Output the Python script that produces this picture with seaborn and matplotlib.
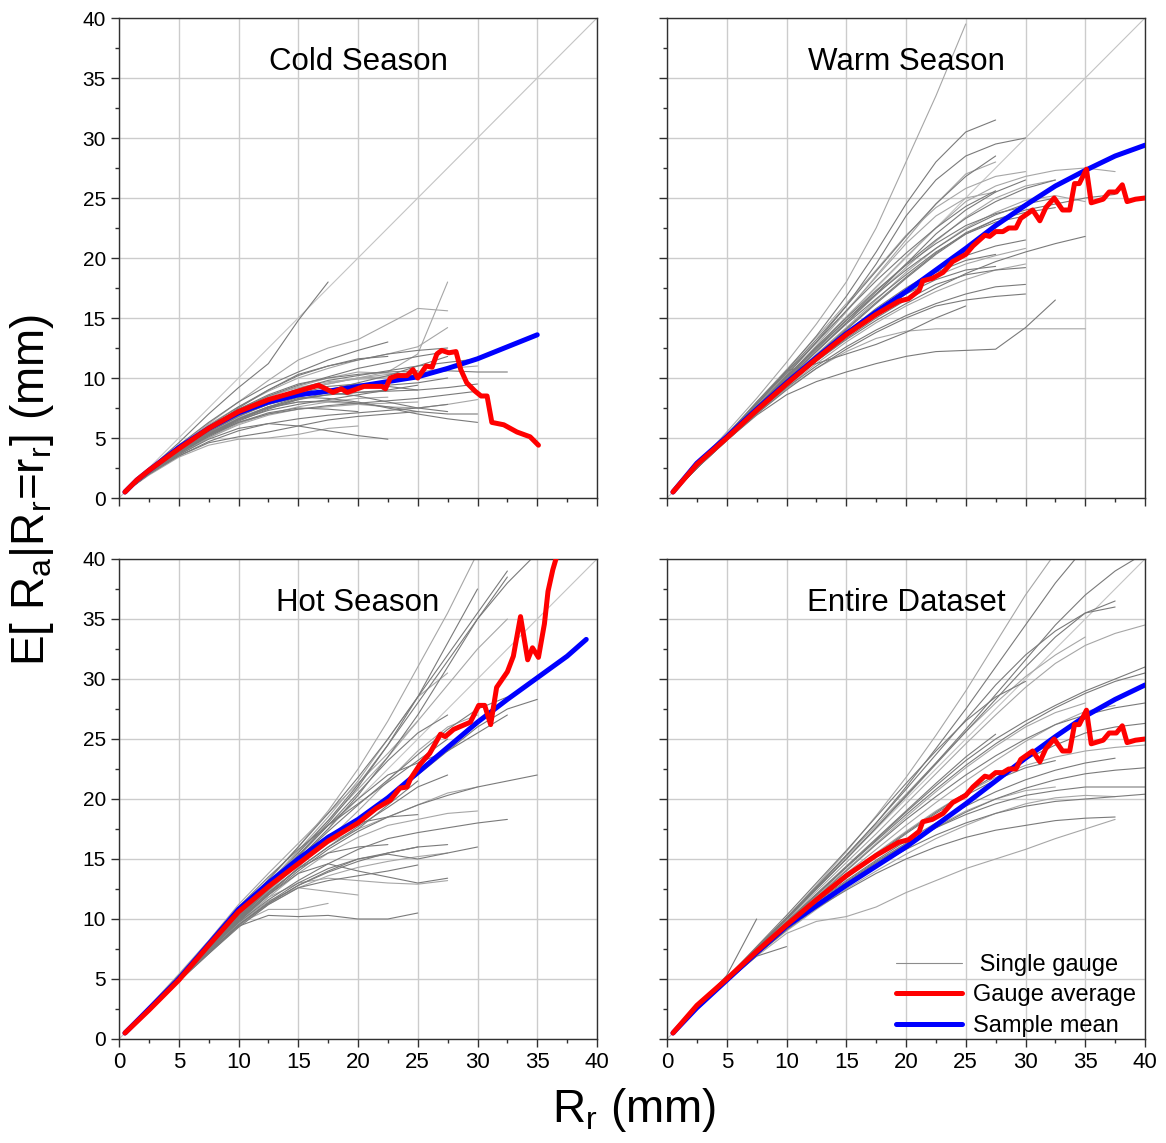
import pandas as pd
import matplotlib
matplotlib.use("Agg")
import matplotlib.pyplot as plt
import seaborn as sns
from matplotlib.lines import Line2D
from matplotlib.ticker import MultipleLocator

# === DATA ===
# shared x positions of the single-gauge curves (each gauge uses the first len(y) of them)
GAUGE_X = [0.5, 2.5, 5, 7.5, 10, 12.5, 15, 17.5, 20, 22.5, 25, 27.5, 30, 32.5, 35, 37.5, 40]

COLD_GAUGES = [
    [0.5, 2.3, 4.3, 6.2, 8.0, 9.8, 11.5, 12.5, 13.2, 14.5, 15.8, 15.6],
    [0.5, 2.2, 4.0, 5.8, 7.5, 9.0, 10.3, 11.0, 11.5, 12.0, 12.3, 12.5],
    [0.5, 2.4, 4.6, 7.0, 9.2, 11.2, 14.8, 18.0],
    [0.5, 2.2, 4.1, 5.8, 7.2, 8.3, 9.0, 9.5, 10.0, 10.5, 12.0, 18.0],
    [0.5, 2.0, 3.7, 5.2, 6.4, 7.4, 8.2, 8.8, 9.3, 9.8, 10.3, 10.6, 10.5, 10.5],
    [0.5, 2.1, 3.9, 5.5, 6.8, 7.8, 8.4, 8.3, 8.0, 7.5, 7.0, 6.6, 6.3],
    [0.5, 1.9, 3.4, 4.4, 4.9, 5.0, 5.3, 5.8, 6.0],
    [0.5, 2.0, 3.5, 4.6, 5.1, 5.5, 6.0, 6.5, 6.8, 7.0, 7.2],
    [0.5, 2.2, 4.0, 5.6, 6.9, 7.8, 8.5, 9.0, 9.2, 9.4, 9.6, 10.0],
    [0.5, 2.3, 4.3, 6.1, 7.6, 8.9, 10.0, 10.8, 11.5, 12.0, 12.6, 14.2],
    [0.5, 2.1, 3.8, 5.3, 6.6, 7.6, 8.2, 8.6, 8.8, 9.0],
    [0.5, 2.2, 4.1, 5.9, 7.4, 8.6, 9.5, 10.0, 10.3, 10.5, 10.6],
    [0.5, 2.0, 3.6, 5.0, 6.1, 6.9, 7.4, 7.6, 7.8, 7.9, 8.0],
    [0.5, 2.0, 3.6, 4.9, 5.8, 6.2, 6.0, 5.6, 5.2, 4.9],
    [0.5, 2.2, 4.2, 6.0, 7.6, 9.0, 10.2, 11.0, 11.6, 11.8],
    [0.5, 2.1, 3.9, 5.5, 6.9, 8.0, 8.9, 9.5, 10.0, 10.3, 10.5, 10.8, 11.0],
    [0.5, 2.0, 3.7, 5.2, 6.5, 7.5, 8.3, 8.6, 8.8, 8.9, 9.0, 9.2, 9.5],
    [0.5, 2.2, 4.0, 5.7, 7.0, 8.0, 8.6, 8.8, 8.5, 8.0, 7.5, 7.2],
    [0.5, 2.1, 3.8, 5.4, 6.7, 7.6, 8.0, 8.0, 7.8, 7.6, 7.5, 7.8, 8.2],
    [0.5, 2.3, 4.4, 6.3, 8.0, 9.4, 10.5, 11.5, 12.3, 13.0],
    [0.5, 2.1, 3.8, 5.3, 6.5, 7.3, 7.8, 8.2, 8.6, 9.0, 9.4],
    [0.5, 2.0, 3.6, 5.0, 6.2, 7.0, 7.6, 8.0, 8.3, 8.4],
    [0.5, 2.2, 4.0, 5.6, 7.0, 8.2, 9.1, 9.8, 10.2, 10.6, 11.0, 11.3, 11.6],
    [0.5, 2.1, 3.9, 5.4, 6.6, 7.5, 8.0, 8.1, 7.9, 7.6, 7.2, 7.0, 7.0],
    [0.5, 2.2, 4.1, 5.7, 7.1, 8.2, 9.0, 9.6, 10.0, 10.1],
    [0.5, 2.0, 3.7, 5.1, 6.3, 7.1, 7.5, 7.4, 7.2],
    [0.5, 2.1, 3.8, 5.3, 6.6, 7.6, 8.4, 9.0, 9.6, 10.2, 11.0, 11.8],
    [0.5, 2.2, 4.0, 5.7, 7.2, 8.4, 9.3, 10.0, 10.5, 10.4, 10.2],
    [0.5, 2.0, 3.5, 4.7, 5.6, 6.2, 6.6, 6.9, 7.1, 7.3, 7.5, 7.8],
    [0.5, 2.1, 3.8, 5.2, 6.3, 7.0, 7.4, 7.7, 7.9, 8.1, 8.3, 8.6, 8.9],
    [0.5, 2.3, 4.2, 6.0, 7.4, 8.5, 9.2, 9.7, 9.9, 10.0, 10.3],
    [0.5, 2.2, 4.1, 5.8, 7.3, 8.5, 9.4, 10.1, 10.8, 11.3, 11.8, 12.2],
    [0.5, 2.1, 3.9, 5.5, 6.8, 7.9, 8.7, 9.3, 9.5, 9.3, 9.0],
]

WARM_GAUGES = [
    [0.5, 2.8, 5.5, 8.3, 11.3, 14.5, 18.0, 22.5, 28.0, 33.5, 39.5],
    [0.5, 2.7, 5.2, 7.8, 10.6, 13.5, 16.8, 20.5, 24.5, 28.0, 30.5, 31.5],
    [0.5, 2.6, 5.1, 7.6, 10.2, 13.0, 16.0, 19.5, 23.5, 26.5, 28.5, 29.5, 30.0],
    [0.5, 2.6, 5.1, 7.5, 10.0, 12.7, 15.5, 18.5, 21.5, 24.5, 27.0, 28.0],
    [0.5, 2.6, 5.0, 7.4, 9.8, 12.2, 14.6, 17.0, 19.5, 22.0, 24.0, 25.5, 26.5],
    [0.5, 2.6, 5.0, 7.3, 9.6, 11.8, 14.0, 16.2, 18.3, 20.3, 22.0, 23.0, 23.5],
    [0.5, 2.5, 4.9, 7.2, 9.4, 11.5, 13.5, 15.3, 17.0, 18.5, 19.5, 20.2, 20.8],
    [0.5, 2.5, 4.8, 7.0, 9.0, 10.8, 12.4, 13.8, 15.0, 16.0, 16.5, 16.8, 17.0],
    [0.5, 2.5, 4.8, 6.9, 8.6, 9.7, 10.5, 11.2, 11.8, 12.2, 12.3, 12.4, 14.2, 16.5],
    [0.5, 2.5, 4.8, 7.0, 9.1, 10.8, 12.2, 13.3, 13.9, 14.1, 14.1, 14.1, 14.1, 14.1, 14.1],
    [0.5, 2.5, 4.9, 7.1, 9.2, 11.0, 12.6, 14.0, 15.2, 16.2, 17.0, 17.6, 17.8],
    [0.5, 2.6, 5.1, 7.6, 10.0, 12.4, 14.8, 17.2, 19.5, 21.5, 23.3, 24.7, 25.8, 26.5],
    [0.5, 2.5, 5.0, 7.4, 9.8, 12.0, 14.2, 16.5, 18.8, 20.8, 22.5, 23.8, 24.8, 25.2, 24.7],
    [0.5, 2.5, 4.9, 7.2, 9.5, 11.6, 13.6, 15.5, 17.3, 18.8, 19.8, 20.3],
    [0.5, 2.6, 5.2, 8.0, 10.6, 11.2, 12.0, 12.8, 13.8, 15.0, 16.0],
    [0.5, 2.6, 5.0, 7.5, 9.9, 12.3, 14.6, 16.9, 19.2, 21.4, 23.4, 25.0, 26.0, 26.5],
    [0.5, 2.5, 4.9, 7.3, 9.6, 11.9, 14.1, 16.3, 18.4, 20.4, 22.1, 23.2, 23.8, 24.2],
    [0.5, 2.7, 5.3, 7.9, 10.5, 13.2, 16.0, 18.9, 21.8, 24.5, 26.8, 28.5],
    [0.5, 2.5, 4.8, 7.0, 9.2, 11.2, 13.0, 14.6, 16.0, 17.2, 18.2, 19.0, 19.5],
    [0.5, 2.6, 5.1, 7.6, 10.1, 12.5, 14.8, 17.0, 19.0, 20.8, 22.4, 23.6, 24.5, 25.0],
    [0.5, 2.5, 4.9, 7.2, 9.4, 11.4, 13.2, 14.8, 16.2, 17.5, 18.7, 19.7, 20.5, 21.2, 21.8],
    [0.5, 2.6, 5.1, 7.7, 10.3, 12.9, 15.6, 18.4, 21.2, 23.5, 25.0, 25.5],
    [0.5, 2.5, 4.9, 7.3, 9.6, 11.8, 13.8, 15.5, 17.0, 18.2, 19.0, 19.3],
    [0.5, 2.5, 5.0, 7.5, 9.9, 12.2, 14.5, 16.6, 18.6, 20.5, 22.0, 23.2, 24.0, 24.5, 25.0, 25.3],
    [0.5, 2.6, 5.1, 7.6, 10.1, 12.6, 15.1, 17.6, 20.1, 22.5, 24.7, 26.0, 26.8, 27.3, 27.5, 27.2],
    [0.5, 2.5, 4.9, 7.2, 9.5, 11.7, 13.8, 15.8, 17.5, 19.0, 20.2, 21.0, 21.5],
    [0.5, 2.5, 4.8, 7.1, 9.3, 11.4, 13.3, 15.0, 16.5, 17.8, 18.6, 19.0, 19.2],
    [0.5, 2.7, 5.3, 8.0, 10.7, 13.4, 16.2, 19.0, 21.9, 24.2, 25.8, 26.8, 27.2],
    [0.5, 2.6, 5.2, 7.8, 10.4, 13.0, 15.6, 18.1, 20.4, 22.5, 24.3, 25.6],
    [0.5, 2.6, 5.1, 7.6, 10.1, 12.6, 15.0, 17.3, 19.4, 21.2, 22.7, 23.7, 24.3],
]

HOT_GAUGES = [
    [0.5, 2.6, 5.2, 7.8, 10.5, 13.2, 16.0, 19.0, 22.5, 26.5, 31.0, 35.5, 40.5],
    [0.5, 2.6, 5.1, 7.7, 10.3, 12.8, 15.3, 18.0, 21.0, 24.5, 28.5, 33.0, 37.5],
    [0.5, 2.5, 5.0, 7.5, 10.0, 12.5, 15.0, 17.5, 20.3, 23.5, 27.0, 31.0, 35.0, 38.5],
    [0.5, 2.5, 4.9, 7.3, 9.7, 12.0, 14.3, 16.6, 19.0, 21.5, 24.0, 26.0, 27.0],
    [0.5, 2.5, 4.9, 7.2, 9.5, 11.3, 12.8, 14.0, 15.0, 15.5, 16.0],
    [0.5, 2.5, 4.8, 7.1, 9.4, 10.3, 10.2, 10.3, 10.0, 10.0, 10.5],
    [0.5, 2.5, 4.9, 7.3, 9.6, 11.5, 12.6, 12.3, 12.0],
    [0.5, 2.5, 5.0, 7.4, 9.8, 12.0, 13.8, 14.6, 14.0, 13.5, 13.0, 13.4],
    [0.5, 2.6, 5.1, 7.6, 10.1, 12.6, 15.0, 17.0, 18.0, 18.5, 18.7],
    [0.5, 2.5, 4.9, 7.4, 9.9, 12.3, 14.5, 16.3, 17.5, 18.5, 19.5, 20.5, 21.0],
    [0.5, 2.5, 5.0, 7.5, 10.0, 12.4, 14.6, 16.5, 18.3, 20.0, 22.0, 24.0, 26.0, 27.5, 28.3],
    [0.5, 2.6, 5.1, 7.7, 10.3, 12.9, 15.5, 18.2, 21.2, 24.5, 28.0, 31.5, 35.0, 38.0, 40.5],
    [0.5, 2.5, 4.9, 7.3, 9.6, 11.8, 13.8, 15.5, 16.8, 17.8, 18.3, 18.8, 19.0],
    [0.5, 2.5, 4.8, 7.1, 9.3, 11.2, 12.6, 13.2, 13.6, 14.0, 14.5],
    [0.5, 2.5, 5.0, 7.5, 9.9, 12.2, 14.2, 16.0, 17.5, 19.5, 21.5],
    [0.5, 2.6, 5.2, 7.8, 10.4, 13.0, 15.7, 18.5, 21.5, 25.0, 28.5, 30.5],
    [0.5, 2.5, 4.9, 7.2, 9.5, 11.4, 13.0, 14.2, 15.0, 15.4, 15.0, 15.5, 16.0],
    [0.5, 2.5, 5.0, 7.4, 9.8, 12.1, 14.2, 16.0, 17.7, 19.3, 21.0, 22.0],
    [0.5, 2.5, 4.9, 7.3, 9.7, 11.8, 13.0, 13.4, 13.2, 13.0, 12.9, 13.2],
    [0.5, 2.6, 5.1, 7.6, 10.2, 12.8, 15.3, 17.8, 20.0, 22.0, 23.0, 24.0, 25.5, 27.0],
    [0.5, 2.5, 5.0, 7.5, 9.9, 12.2, 14.2, 15.5, 16.0, 16.2],
    [0.5, 2.5, 4.9, 7.3, 9.6, 10.8, 10.8, 11.3],
    [0.5, 2.6, 5.2, 7.9, 10.6, 13.3, 16.0, 18.8, 21.8, 25.0, 28.5, 32.0, 35.5, 39.0],
    [0.5, 2.5, 5.0, 7.4, 9.7, 11.6, 13.2, 14.6, 15.8, 16.7, 17.2, 17.6, 18.0, 18.3],
    [0.5, 2.5, 4.9, 7.2, 9.4, 11.2, 12.6, 13.6, 14.3, 14.8, 15.2, 15.5],
    [0.5, 2.6, 5.1, 7.6, 10.1, 12.6, 15.0, 17.3, 19.5, 21.6, 23.7, 25.8, 27.5, 28.5],
    [0.5, 2.5, 5.0, 7.5, 10.0, 12.5, 15.2, 17.8, 20.5, 23.2, 25.5, 27.0],
    [0.5, 2.6, 5.2, 7.8, 10.4, 13.0, 15.6, 18.2, 20.8, 23.5, 26.5, 29.5, 32.5, 35.0],
    [0.5, 2.5, 4.9, 7.3, 9.5, 11.3, 12.8, 13.9, 14.8, 15.5, 16.0, 16.2],
    [0.5, 2.5, 5.0, 7.4, 9.8, 12.0, 14.0, 15.8, 17.3, 18.5, 19.5, 20.3, 21.0, 21.5, 22.0],
    [0.5, 2.7, 5.4, 8.2, 11.2, 13.8, 16.3, 18.8, 21.3, 23.8, 26.5],
    [0.5, 2.6, 5.3, 8.0, 11.0, 13.5, 15.8, 17.8, 19.6, 21.4, 23.2, 25.0],
]

ENTIRE_GAUGES = [
    [0.5, 2.6, 5.1, 7.6, 10.1, 12.8, 15.6, 18.6, 21.8, 25.3, 29.0, 33.0, 37.0, 40.5],
    [0.5, 2.6, 5.1, 7.6, 10.1, 12.7, 15.3, 18.0, 21.0, 24.2, 27.5, 31.0, 34.5, 38.0, 41.0],
    [0.5, 2.6, 5.0, 7.5, 10.0, 12.5, 15.0, 17.6, 20.3, 23.0, 25.8, 28.7, 31.6, 34.5, 37.0, 39.0, 40.5],
    [0.5, 2.5, 5.0, 7.5, 9.9, 12.3, 14.7, 17.1, 19.6, 22.1, 24.6, 27.0, 29.3, 31.3, 32.8, 33.8, 34.5],
    [0.5, 2.5, 4.9, 7.3, 9.7, 12.0, 14.3, 16.6, 18.9, 21.1, 23.2, 25.0, 26.5, 27.8, 29.0, 30.0, 31.0],
    [0.5, 2.5, 4.9, 7.3, 9.6, 11.8, 14.0, 16.2, 18.3, 20.2, 22.0, 23.6, 25.0, 26.2, 27.0, 27.6, 28.0],
    [0.5, 2.5, 4.9, 7.2, 9.5, 11.6, 13.6, 15.5, 17.3, 19.0, 20.5, 21.8, 22.8, 23.5, 24.0, 24.3, 24.5],
    [0.5, 2.5, 4.8, 7.1, 9.3, 11.3, 13.1, 14.8, 16.3, 17.6, 18.7, 19.6, 20.3, 20.7, 21.0, 21.0, 21.0],
    [0.5, 2.5, 4.8, 7.0, 9.1, 10.9, 12.4, 13.8, 15.0, 16.0, 16.8, 17.4, 17.8, 18.2, 18.4, 18.5],
    [0.5, 2.5, 4.8, 6.9, 8.8, 9.8, 10.2, 11.0, 12.2, 13.2, 14.2, 15.0, 15.8, 16.7, 17.5, 18.3],
    [0.5, 2.5, 4.9, 7.2, 9.4, 11.4, 13.2, 14.9, 16.5, 18.0, 19.4, 20.6, 21.6, 22.4, 23.0, 23.4],
    [0.5, 2.6, 5.0, 7.5, 10.0, 12.5, 15.0, 17.6, 20.2, 22.9, 25.6, 28.3, 31.0, 33.5, 35.5, 36.5],
    [0.5, 2.5, 4.9, 7.3, 9.6, 11.9, 14.1, 16.3, 18.5, 20.6, 22.6, 24.4, 26.0, 27.2, 28.0],
    [0.5, 2.5, 4.8, 7.1, 9.3, 11.4, 13.4, 15.3, 17.1, 18.8, 20.3, 21.6, 22.6, 23.2],
    [0.5, 2.5, 4.8, 7.0, 9.1, 11.0, 12.8, 14.4, 15.8, 17.0, 18.0, 18.8, 19.4, 19.8, 20.0, 20.2, 20.4],
    [0.5, 2.5, 4.9, 7.2, 9.5, 11.7, 13.8, 15.8, 17.8, 19.7, 21.5, 23.2, 24.8, 26.2, 27.3, 27.8],
    [0.5, 2.6, 5.3, 10.0],
    [0.5, 2.5, 4.8, 6.9, 7.7],
    [0.5, 2.6, 5.1, 7.6, 10.1, 12.6, 15.2, 17.8, 20.4, 23.0, 25.6, 28.0, 30.2, 32.0, 33.5],
    [0.5, 2.5, 4.9, 7.3, 9.7, 12.0, 14.3, 16.5, 18.7, 20.8, 22.8, 24.6, 26.2, 27.6, 28.8, 29.8, 30.5],
    [0.5, 2.5, 4.8, 7.1, 9.2, 11.2, 13.0, 14.7, 16.2, 17.6, 18.9, 20.0, 20.9, 21.6, 22.1, 22.4, 22.6],
    [0.5, 2.5, 4.8, 7.0, 9.0, 10.8, 12.5, 14.0, 15.4, 16.7, 17.8, 18.8, 19.6, 20.1, 20.3, 20.2],
    [0.5, 2.6, 5.0, 7.5, 10.0, 12.6, 15.3, 18.0, 20.8, 23.7, 26.6, 29.5, 32.0, 34.0, 35.5, 36.0],
    [0.5, 2.5, 4.9, 7.2, 9.4, 11.5, 13.5, 15.4, 17.2, 18.9, 20.5, 22.0, 23.3, 24.5, 25.5, 26.0, 26.3],
    [0.5, 2.5, 4.8, 7.0, 9.1, 11.1, 13.0, 14.7, 16.3, 17.7, 19.0, 20.0, 20.7, 21.0],
    [0.5, 2.6, 5.1, 7.7, 10.3, 13.0, 15.7, 18.5, 21.3, 24.0, 26.5, 28.5, 29.8],
    [0.5, 2.5, 5.0, 7.4, 9.8, 12.1, 14.4, 16.7, 19.0, 21.3, 23.5, 25.4],
]

# sample mean (blue)
COLD_MEAN_X = [0.5, 1.5, 2.5, 5, 7.5, 10, 12.5, 15, 17.5, 20, 22.5, 25, 27.5, 30, 32.5, 35]
COLD_MEAN_Y = [0.5, 1.5, 2.3, 4.2, 5.8, 7.1, 8.0, 8.6, 8.9, 9.3, 9.7, 10.1, 10.8, 11.6, 12.6, 13.6]
WARM_MEAN_X = [0.5, 2.5, 5, 7.5, 10, 12.5, 15, 17.5, 20, 22.5, 25, 27.5, 30, 32.5, 35, 37.5, 40]
WARM_MEAN_Y = [0.5, 2.9, 5.1, 7.4, 9.6, 11.7, 13.7, 15.5, 17.2, 19.0, 20.8, 22.7, 24.4, 26.0, 27.3, 28.5, 29.4]
HOT_MEAN_X = [0.5, 2.5, 5, 7.5, 10, 12.5, 15, 17.5, 20, 22.5, 25, 27.5, 30, 32.5, 35, 37.5, 39.1]
HOT_MEAN_Y = [0.5, 2.5, 5.0, 7.9, 10.8, 13.0, 15.0, 16.8, 18.3, 20.1, 22.2, 24.3, 26.4, 28.3, 30.1, 31.9, 33.3]
ENTIRE_MEAN_X = [0.5, 2.5, 5, 7.5, 10, 12.5, 15, 17.5, 20, 22.5, 25, 27.5, 30, 32.5, 35, 37.5, 40]
ENTIRE_MEAN_Y = [0.5, 2.6, 4.9, 7.2, 9.4, 11.1, 12.8, 14.4, 16.0, 17.8, 19.6, 21.5, 23.4, 25.2, 26.9, 28.3, 29.5]

# gauge average (red)
COLD_AVG_X = [0.5, 1.5, 2.5, 5, 7.5, 10, 12.5, 15, 16.7, 17.9, 18.6, 19.1, 20.5, 22.0, 22.3, 22.7,
              23.3, 24.1, 24.6, 25.0, 25.7, 26.2, 26.6, 27.0, 27.6, 28.2, 28.6, 29.1, 29.8, 30.3,
              30.8, 31.2, 32.2, 33.3, 34.4, 35.1]
COLD_AVG_Y = [0.5, 1.5, 2.3, 4.1, 5.8, 7.2, 8.2, 8.9, 9.4, 8.8, 9.1, 8.8, 9.3, 9.3, 9.1, 10.0,
              10.2, 10.2, 10.7, 10.0, 11.0, 10.9, 12.0, 12.3, 12.1, 12.2, 10.7, 9.6, 8.9, 8.5,
              8.5, 6.3, 6.1, 5.5, 5.1, 4.4]
WARM_AVG_X = [0.5, 2.5, 5, 7.5, 10, 12.5, 15, 17.5, 19.4, 20.2, 21.1, 21.4, 22.2, 23.1, 23.9, 25.0,
              25.6, 26.6, 27.0, 27.5, 28.1, 28.6, 29.2, 29.6, 30.6, 31.2, 31.7, 32.4, 33.1, 33.7,
              34.1, 34.5, 35.1, 35.5, 36.5, 37.0, 37.6, 38.1, 38.5, 39.2, 40]
WARM_AVG_Y = [0.5, 2.8, 5.0, 7.3, 9.5, 11.6, 13.6, 15.3, 16.4, 16.6, 17.3, 18.1, 18.3, 18.8, 19.7, 20.3,
              21.0, 21.9, 21.8, 22.2, 22.2, 22.5, 22.5, 23.3, 24.0, 23.1, 24.2, 25.0, 24.0, 24.0,
              26.2, 26.2, 27.4, 24.6, 24.9, 25.5, 25.5, 26.1, 24.7, 24.9, 25.0]
HOT_AVG_X = [0.5, 2.5, 5, 7.5, 10, 12.5, 15, 17.5, 20, 21.5, 22.7, 23.5, 24.1, 24.4, 25.2, 26.0,
             26.9, 27.3, 28.0, 29.4, 30.1, 30.6, 31.1, 31.6, 32.5, 33.0, 33.6, 34.2, 34.6, 35.1,
             35.6, 35.9, 36.3, 36.8]
HOT_AVG_Y = [0.5, 2.4, 4.9, 7.8, 10.6, 12.7, 14.6, 16.5, 18.0, 19.2, 19.9, 20.9, 21.0, 21.7, 22.9, 23.8,
             25.4, 25.2, 25.8, 26.4, 27.8, 27.8, 26.2, 29.3, 30.6, 31.9, 35.2, 31.6, 32.6, 31.8,
             34.6, 37.3, 39.1, 40.8]
# the entire-dataset gauge average reads the same as the warm one
ENTIRE_AVG_X = WARM_AVG_X
ENTIRE_AVG_Y = WARM_AVG_Y

PANELS = [
    ("Cold Season", COLD_GAUGES, COLD_MEAN_X, COLD_MEAN_Y, COLD_AVG_X, COLD_AVG_Y),
    ("Warm Season", WARM_GAUGES, WARM_MEAN_X, WARM_MEAN_Y, WARM_AVG_X, WARM_AVG_Y),
    ("Hot Season", HOT_GAUGES, HOT_MEAN_X, HOT_MEAN_Y, HOT_AVG_X, HOT_AVG_Y),
    ("Entire Dataset", ENTIRE_GAUGES, ENTIRE_MEAN_X, ENTIRE_MEAN_Y, ENTIRE_AVG_X, ENTIRE_AVG_Y),
]

# === STYLE ===
sns.set_style("white")
plt.rcParams["font.family"] = ["Liberation Sans", "DejaVu Sans"]
plt.rcParams["text.color"] = "black"
plt.rcParams["xtick.color"] = "#303030"
plt.rcParams["ytick.color"] = "#303030"
plt.rcParams["xtick.labelcolor"] = "black"
plt.rcParams["ytick.labelcolor"] = "black"
plt.rcParams["mathtext.fontset"] = "custom"
plt.rcParams["mathtext.rm"] = "Liberation Sans"
plt.rcParams["mathtext.it"] = "Liberation Sans"

fig = plt.figure(figsize=(11.66, 11.43), dpi=100)
lefts = [119 / 1166, 667 / 1166]
bottoms = [1 - 498 / 1143, 1 - 1039 / 1143]
w, h = 478 / 1166, 480 / 1143

for k, (title, gauges, mx, my, ax_, ay_) in enumerate(PANELS):
    row, col = divmod(k, 2)
    ax = fig.add_axes([lefts[col], bottoms[row], w, h])

    # long table of single gauges
    rows = []
    for g, ys in enumerate(gauges):
        for x, y in zip(GAUGE_X, ys):
            rows.append({"gauge": g, "x": x, "y": y, "shade": "light" if g % 3 == 0 else "dark"})
    gdf = pd.DataFrame(rows)

    ax.plot([0, 40], [0, 40], color="#c4c4c4", lw=0.8, zorder=1)
    sns.lineplot(data=gdf, x="x", y="y", units="gauge", hue="shade", estimator=None,
                 palette={"light": "#a6a6a6", "dark": "#7a7a7a"}, lw=0.8, legend=False,
                 ax=ax, zorder=2)
    sns.lineplot(x=mx, y=my, color="#0000ff", lw=3.6, sort=False, estimator=None, ax=ax, zorder=3)
    sns.lineplot(x=ax_, y=ay_, color="#ff0000", lw=3.6, sort=False, estimator=None, ax=ax, zorder=4)

    ax.set_xlim(0, 40)
    ax.set_ylim(0, 40)
    ax.xaxis.set_major_locator(MultipleLocator(5))
    ax.yaxis.set_major_locator(MultipleLocator(5))
    ax.xaxis.set_minor_locator(MultipleLocator(2.5))
    ax.yaxis.set_minor_locator(MultipleLocator(2.5))
    ax.grid(True, which="major", color="#cccccc", lw=1.0)
    ax.set_axisbelow(True)
    ax.tick_params(which="major", direction="out", length=6, width=1,
                   left=True, bottom=True, top=False, right=False)
    ax.tick_params(which="minor", direction="out", length=3, width=1,
                   left=True, bottom=True, top=False, right=False)
    for s in ax.spines.values():
        s.set_color("#303030")
        s.set_linewidth(1.0)
    ax.set_xlabel("")
    ax.set_ylabel("")

    if col == 0:
        ax.tick_params(axis="y", labelsize=15)
    else:
        ax.set_yticklabels([])
    if row == 1:
        ax.tick_params(axis="x", labelsize=16)
    else:
        ax.set_xticklabels([])

    ax.text(20, 36.3, title, ha="center", va="center", fontsize=22.5)

    if k == 3:
        handles = [Line2D([], [], color="#8c8c8c", lw=0.8),
                   Line2D([], [], color="#ff0000", lw=3.6),
                   Line2D([], [], color="#0000ff", lw=3.6)]
        ax.legend(handles, [" Single gauge", "Gauge average", "Sample mean"],
                  loc="lower right", bbox_to_anchor=(1.025, -0.04), frameon=False,
                  fontsize=17, handlelength=2.8, handletextpad=0.45, labelspacing=0.36)

fig.text(32 / 1166, 1 - 490 / 1143, r"E[ R$_{\rm a}$|R$_{\rm r}$=r$_{\rm r}$] (mm)",
         rotation=90, ha="center", va="center", fontsize=33)
fig.text(634 / 1166, 1 - 1110 / 1143, r"R$_{\rm r}$ (mm)",
         ha="center", va="center", fontsize=33)

fig.savefig("out.png", dpi=100)
